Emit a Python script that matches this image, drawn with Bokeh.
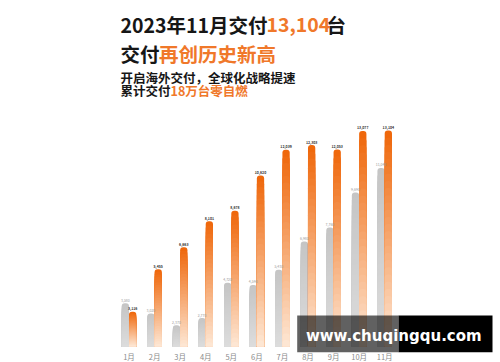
import numpy as np
from bokeh.plotting import figure
from bokeh.models import Range1d, ColumnDataSource
from bokeh.core.properties import value
from bokeh.embed import file_html
from bokeh.resources import INLINE

# ---------------- data ----------------
months = ["1月", "2月", "3月", "4月", "5月", "6月", "7月", "8月", "9月", "10月", "11月"]
deliveries_2023 = [3116, 5455, 6663, 8101, 8678, 10620, 12039, 12303, 12053, 13077, 13104]
deliveries_2022 = [3580, 3020, 2370, 2770, 4720, 4590, 5430, 6980, 7760, 9690, 11040]

title_line1 = ["2023年11月交付", "13,104", "台"]
title_line2 = ["交付", "再创历史新高"]
subtitle_line1 = ["开启海外交付，全球化战略提速"]
subtitle_line2 = ["累计交付", "18万台零自燃"]
watermark = "www.chuqingqu.com"

# ---------------- layout ----------------
W, H = 500, 362
BASE = 1200
base_px, top_px = 346.0, 130.0
ppu = (base_px - top_px) / (max(deliveries_2023) - BASE)
y0 = BASE - (H - base_px) / ppu
y1 = y0 + H / ppu
group_px, first_px = 25.57, 128.5
x0 = -first_px / group_px
x1 = x0 + W / group_px
bw = 0.285
off = bw / 2

CJK = value("Noto Sans CJK SC")
BLACK = "#161616"
ORANGE = "#F0782A"

p = figure(width=W, height=H, x_range=Range1d(x0, x1), y_range=Range1d(y0, y1),
           output_backend="svg", toolbar_location=None, min_border=0,
           x_axis_location=None, y_axis_location=None)
p.grid.visible = False
p.outline_line_color = None
p.background_fill_color = "white"
p.border_fill_color = "white"
p.extra_x_ranges = {"px": Range1d(0, W)}
p.extra_y_ranges = {"px": Range1d(H, 0)}


def hex2rgb(h):
    h = h.lstrip("#")
    return np.array([int(h[i:i + 2], 16) for i in (0, 2, 4)], dtype=float)


def gradient_source(xs, vals, c_top, c_bot, n=30):
    a, b = hex2rgb(c_top), hex2rgb(c_bot)
    gx, gt, gc = [], [], []
    for k in range(n):
        frac = (n - k) / n
        t = k / (n - 1)
        c = a + (b - a) * t
        col = "#%02x%02x%02x" % tuple(int(round(v)) for v in c)
        for x, v in zip(xs, vals):
            gx.append(x)
            gt.append(BASE + frac * (v - BASE))
            gc.append(col)
    return ColumnDataSource(dict(x=gx, top=gt, color=gc))


idx = np.arange(len(months))
xs_prev = idx - off
xs_cur = idx + off

src_prev = gradient_source(xs_prev, deliveries_2022, "#C5C5C5", "#DCDCDC")
src_cur = gradient_source(xs_cur, deliveries_2023, "#EF680C", "#FDE6D3")
for src in (src_prev, src_cur):
    p.vbar(x="x", top="top", bottom=BASE, width=bw, fill_color="color",
           line_color=None, source=src, border_radius=(3, 3, 0, 0))

# value labels
p.text(x=xs_prev, y=deliveries_2022, text=[f"{v:,}" for v in deliveries_2022],
       text_align="center", text_baseline="bottom", y_offset=-1.5,
       text_font=CJK, text_font_size="3.5px", text_color="#9a9a9a")
p.text(x=xs_cur, y=deliveries_2023, text=[f"{v:,}" for v in deliveries_2023],
       text_align="center", text_baseline="bottom", y_offset=-1.5,
       text_font=CJK, text_font_size="3.5px", text_font_style="bold", text_color="#333333")

# watermark box (drawn over bars)
p.quad(left=[296.7], right=[398], top=[315], bottom=[351.7], x_range_name="px", y_range_name="px",
       fill_color="black", fill_alpha=0.62, line_color=None)
p.quad(left=[398], right=[492], top=[315], bottom=[351.7], x_range_name="px", y_range_name="px",
       fill_color="black", fill_alpha=1.0, line_color=None)
p.text(x=[393.3], y=[335], text=[watermark], x_range_name="px", y_range_name="px",
       text_align="center", text_baseline="middle", text_font=value("DejaVu Sans"),
       text_font_style="bold", text_font_size="15px", text_color="white")

# month labels
p.text(x=idx, y=[356] * len(months), text=months, y_range_name="px",
       text_align="center", text_baseline="middle", text_font=CJK,
       text_font_size="7.5px", text_color="#8a8a8a")


def seg(x, y, txt, color, size, bold=True):
    p.text(x=[x], y=[y], text=[txt], x_range_name="px", y_range_name="px",
           text_align="left", text_baseline="middle", text_font=CJK,
           text_font_size=size, text_font_style="bold" if bold else "normal",
           text_color=color)


# title lines
seg(120, 23.5, title_line1[0], BLACK, "19.5px")
seg(266, 23.5, title_line1[1], ORANGE, "19.5px")
seg(326, 23.5, title_line1[2], BLACK, "19.5px")
seg(120, 52.5, title_line2[0], BLACK, "19.5px")
seg(158.5, 52.5, title_line2[1], ORANGE, "19.5px")
seg(120, 77, subtitle_line1[0], BLACK, "12.5px")
seg(120, 90, subtitle_line2[0], BLACK, "12.5px")
seg(170, 90, subtitle_line2[1], ORANGE, "12.5px")

open("out.html", "w").write(file_html(p, INLINE))
